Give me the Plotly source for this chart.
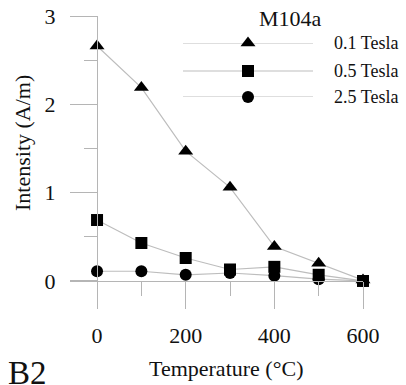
import plotly.graph_objects as go

# ---- data ----
temperature = [0, 100, 200, 300, 400, 500, 600]
tesla_01 = [2.66, 2.19, 1.47, 1.06, 0.39, 0.20, 0.01]
tesla_05 = [0.69, 0.43, 0.26, 0.13, 0.16, 0.07, 0.00]
tesla_25 = [0.11, 0.11, 0.07, 0.09, 0.06, 0.02, 0.00]
series_names = ["0.1 Tesla", "0.5 Tesla", "2.5 Tesla"]
symbols = ["triangle-up", "square", "circle"]
x_ticks = [0, 200, 400, 600]
y_ticks = [0, 1, 2, 3]

W, H = 406, 385
L, R, T, B = 70, 43, 16, 77
PW, PH = W - L - R, H - T - B

def px(x):
    return (x - L) / PW

def py(y):
    return (H - B - y) / PH

FONT = "Liberation Serif, Times New Roman, serif"
LINE_C = "#bdbdbd"
AXIS_C = "#b5b5b5"
INK = "#111111"

fig = go.Figure()
series = [tesla_01, tesla_05, tesla_25]
sizes = [13, 12, 12]

# connecting lines first
for vals in series:
    fig.add_trace(go.Scatter(x=temperature, y=vals, mode="lines",
                             line=dict(color=LINE_C, width=1.2),
                             showlegend=False, hoverinfo="skip", cliponaxis=False))
# markers: circles, triangles, squares (squares on top)
for i in [2, 0, 1]:
    fig.add_trace(go.Scatter(x=temperature, y=series[i], mode="markers",
                             marker=dict(symbol=symbols[i], size=sizes[i], color="black"),
                             name=series_names[i], showlegend=False, cliponaxis=False))

# custom legend on an auxiliary axis
leg_rows_px = [43, 71, 97]
leg_rows = [(97 - r) / 54 for r in leg_rows_px]
for i in range(3):
    fig.add_trace(go.Scatter(x=[0, 1], y=[leg_rows[i]] * 2, mode="lines",
                             line=dict(color=LINE_C, width=1.2), xaxis="x2", yaxis="y2",
                             showlegend=False, hoverinfo="skip", cliponaxis=False))
    fig.add_trace(go.Scatter(x=[0.5], y=[leg_rows[i]], mode="markers",
                             marker=dict(symbol=symbols[i], size=sizes[i], color="black"),
                             xaxis="x2", yaxis="y2", showlegend=False, hoverinfo="skip",
                             cliponaxis=False))

annotations = []
for i in range(3):
    annotations.append(dict(x=px(332), y=py(leg_rows_px[i]), xref="paper", yref="paper",
                            text=series_names[i], showarrow=False, xanchor="left", yanchor="middle",
                            font=dict(family=FONT, size=18, color=INK)))
annotations.append(dict(x=px(290), y=py(18), xref="paper", yref="paper", text="M104a",
                        showarrow=False, xanchor="center", yanchor="middle",
                        font=dict(family=FONT, size=22, color=INK)))
annotations.append(dict(x=px(226), y=py(368), xref="paper", yref="paper",
                        text="Temperature (°C)", showarrow=False, xanchor="center", yanchor="middle",
                        font=dict(family=FONT, size=22, color=INK)))
annotations.append(dict(x=px(22), y=py(143), xref="paper", yref="paper",
                        text="Intensity (A/m)", textangle=-90, showarrow=False,
                        xanchor="center", yanchor="middle",
                        font=dict(family=FONT, size=22, color=INK)))
annotations.append(dict(x=px(6), y=py(353), xref="paper", yref="paper",
                        text="B2", showarrow=False, xanchor="left", yanchor="top",
                        font=dict(family=FONT, size=33, color=INK)))

axis_common = dict(showgrid=False, zeroline=False, showline=True, linecolor=AXIS_C, linewidth=1.2,
                   ticks="outside", ticklen=27, tickcolor=AXIS_C, tickwidth=1.2,
                   tickfont=dict(family=FONT, size=22, color=INK))

fig.update_layout(
    width=W, height=H, margin=dict(l=L, r=R, t=T, b=B, autoexpand=False),
    paper_bgcolor="white", plot_bgcolor="white", showlegend=False,
    xaxis=dict(range=[-61, 600], tickvals=x_ticks, anchor="free", position=27 / PH,
               ticklabelstandoff=7, automargin=False,
               minor=dict(tickvals=[100, 300, 500], ticklen=14, tickcolor=AXIS_C, tickwidth=1.2),
               **axis_common),
    yaxis=dict(range=[-0.306, 3], tickvals=y_ticks, anchor="free", position=27 / PW,
               ticklabelstandoff=10, automargin=False,
               minor=dict(tickvals=[0.5, 1.5, 2.5], ticklen=13, tickcolor=AXIS_C, tickwidth=1.2),
               **axis_common),
    xaxis2=dict(domain=[px(183), px(313)], range=[0, 1], anchor="y2", visible=False),
    yaxis2=dict(domain=[py(97), py(43)], range=[0, 1], anchor="x2", visible=False),
    annotations=annotations,
)

fig.write_html("out.html", config={"displayModeBar": False},
               post_script="document.body.style.margin='0';")
